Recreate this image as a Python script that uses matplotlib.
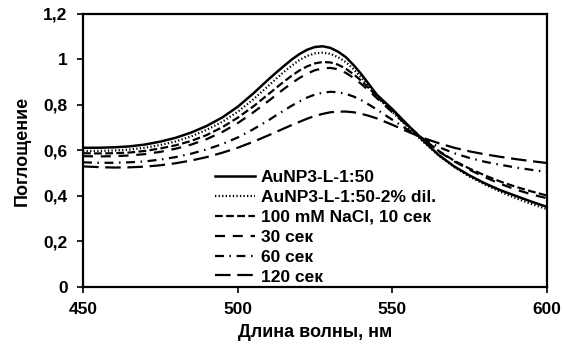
import numpy as np
import matplotlib.pyplot as plt
from matplotlib.ticker import FuncFormatter

plt.rcParams['font.family'] = ['Liberation Sans', 'DejaVu Sans']
plt.rcParams['font.weight'] = 'bold'

# wavelength grid, denser around the plasmon peak
wavelength = [450, 455, 460, 465, 470, 475, 480, 485, 490, 495, 500, 505,
              510, 512.5, 515, 517.5, 520, 522.5, 525, 527.5, 530, 532.5, 535,
              537.5, 540, 542.5, 545,
              550, 555, 560, 565, 570, 575, 580, 585, 590, 595, 600]

au_np3 = [0.612, 0.612, 0.614, 0.618, 0.626, 0.639, 0.656, 0.679, 0.708, 0.745, 0.792, 0.850,
          0.913, 0.943, 0.972, 1.000, 1.024, 1.043, 1.055, 1.058, 1.051, 1.034, 1.010,
          0.975, 0.935, 0.890, 0.845,
          0.782, 0.712, 0.643, 0.580, 0.530, 0.490, 0.455, 0.425, 0.400, 0.375, 0.352]
au_np3_dil = [0.598, 0.598, 0.600, 0.604, 0.612, 0.624, 0.640, 0.662, 0.691, 0.726, 0.770, 0.824,
              0.885, 0.916, 0.946, 0.973, 0.998, 1.016, 1.027, 1.030, 1.025, 1.010, 0.988,
              0.957, 0.920, 0.878, 0.835,
              0.770, 0.702, 0.638, 0.578, 0.527, 0.485, 0.450, 0.418, 0.390, 0.365, 0.342]
nacl_10 = [0.588, 0.587, 0.588, 0.591, 0.598, 0.609, 0.623, 0.642, 0.668, 0.702, 0.744, 0.793,
           0.848, 0.876, 0.903, 0.929, 0.952, 0.970, 0.983, 0.989, 0.987, 0.977, 0.959,
           0.935, 0.906, 0.873, 0.839,
           0.775, 0.710, 0.650, 0.598, 0.555, 0.520, 0.490, 0.463, 0.440, 0.420, 0.402]
nacl_30 = [0.575, 0.574, 0.575, 0.578, 0.584, 0.594, 0.608, 0.626, 0.650, 0.681, 0.720, 0.767,
           0.818, 0.845, 0.871, 0.896, 0.919, 0.938, 0.953, 0.961, 0.963, 0.957, 0.941,
           0.919, 0.892, 0.862, 0.830,
           0.768, 0.708, 0.649, 0.596, 0.552, 0.515, 0.482, 0.453, 0.428, 0.407, 0.390]
nacl_60 = [0.548, 0.546, 0.546, 0.548, 0.552, 0.560, 0.571, 0.586, 0.605, 0.628, 0.657, 0.693,
           0.733, 0.755, 0.776, 0.797, 0.816, 0.833, 0.846, 0.854, 0.858, 0.856, 0.849,
           0.837, 0.821, 0.801, 0.780,
           0.735, 0.691, 0.651, 0.615, 0.588, 0.567, 0.550, 0.537, 0.525, 0.515, 0.505]
nacl_120 = [0.530, 0.527, 0.525, 0.526, 0.529, 0.535, 0.544, 0.556, 0.571, 0.590, 0.612, 0.638,
            0.667, 0.682, 0.697, 0.712, 0.726, 0.740, 0.752, 0.761, 0.768, 0.771, 0.771,
            0.768, 0.761, 0.752, 0.741,
            0.713, 0.683, 0.655, 0.632, 0.612, 0.596, 0.583, 0.572, 0.562, 0.553, 0.545]

labels = ['AuNP3-L-1:50', 'AuNP3-L-1:50-2% dil.', '100 mM NaCl, 10 сек',
          '30 сек', '60 сек', '120 сек']

fig = plt.figure(figsize=(5.63, 3.48), dpi=100)
ax = fig.add_axes([0.1474, 0.1753, 0.8242, 0.7845])

ax.plot(wavelength, au_np3, color='black', lw=1.8, linestyle='-')
ax.plot(wavelength, au_np3_dil, color='black', lw=1.6, linestyle=(0, (0.6, 1.0)))
ax.plot(wavelength, nacl_10, color='black', lw=1.6, linestyle=(0, (3.5, 1.5)))
ax.plot(wavelength, nacl_30, color='black', lw=1.6, linestyle=(0, (4.5, 3.5)))
ax.plot(wavelength, nacl_60, color='black', lw=1.6, linestyle=(0, (4, 2.5, 0.7, 2.5)))
ax.plot(wavelength, nacl_120, color='black', lw=1.6, linestyle=(0, (7, 3)))

ax.set_xlim(450, 600)
ax.set_ylim(0, 1.2)
ax.set_xticks([450, 500, 550, 600])
ax.set_yticks([0, 0.2, 0.4, 0.6, 0.8, 1.0, 1.2])
ax.yaxis.set_major_formatter(FuncFormatter(lambda v, p: ('%g' % v).replace('.', ',')))
ax.tick_params(direction='out', length=4.5, width=1.2, labelsize=12.5, pad=6.5)
for s in ax.spines.values():
    s.set_linewidth(1.6)

ax.set_xlabel('Длина волны, нм', fontsize=13, fontweight='bold', labelpad=5)
ax.set_ylabel('Поглощение', fontsize=13, fontweight='bold', labelpad=9)

ax.legend(labels, loc='upper left', bbox_to_anchor=(0.284, 0.428), frameon=False,
          fontsize=12.5, handlelength=2.3, handletextpad=0.35, labelspacing=0.27,
          borderpad=0, borderaxespad=0)

fig.savefig('out.png', dpi=100)
